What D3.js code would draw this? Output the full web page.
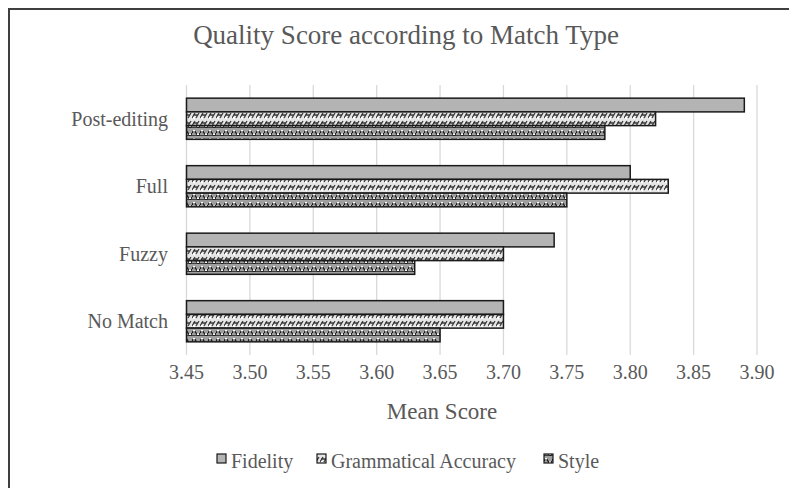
<!doctype html>
<html lang="en">
<head>
    <meta charset="utf-8">
    <script src="https://d3js.org/d3.v7.min.js"></script>
    <style type="text/css">
        html, body {
            margin: 0;
            padding: 0;
            background: #fff;
        }

        svg text {
            font-family: "Liberation Serif", "Times New Roman", serif;
            fill: #595959;
        }
    </style>
</head>
<body>
<svg id="svg" width="789" height="488"></svg>

<script>
    // categories top to bottom, as in the picture
    var categories = ["Post-editing", "Full", "Fuzzy", "No Match"];
    var seriesNames = ["Fidelity", "Grammatical Accuracy", "Style"];

    var fidelity = [3.89, 3.80, 3.74, 3.70];
    var grammatical = [3.82, 3.83, 3.70, 3.70];
    var style = [3.78, 3.75, 3.63, 3.65];

    var xTicks = [3.45, 3.50, 3.55, 3.60, 3.65, 3.70, 3.75, 3.80, 3.85, 3.90];

    var values = [fidelity, grammatical, style];

    var svg = d3.select("#svg");
    var defs = svg.append("defs");

    // fill patterns, roughly like the excel ones
    var pGram = defs.append("pattern")
        .attr("id", "pat-gram")
        .attr("patternUnits", "userSpaceOnUse")
        .attr("width", 8).attr("height", 8);
    pGram.append("rect").attr("width", 8).attr("height", 8).attr("fill", "#e6e6e6");
    pGram.append("path")
        .attr("d", "M0,6 L3,1 M4,6 L7,1 M1,3 L6,3")
        .attr("stroke", "#3a3a3a").attr("stroke-width", 1.3).attr("fill", "none");
    pGram.append("rect").attr("x", 1).attr("y", 5).attr("width", 2).attr("height", 2).attr("fill", "#ffffff");

    var pStyle = defs.append("pattern")
        .attr("id", "pat-style")
        .attr("patternUnits", "userSpaceOnUse")
        .attr("width", 8).attr("height", 8);
    pStyle.append("rect").attr("width", 8).attr("height", 8).attr("fill", "#a0a0a0");
    pStyle.append("path")
        .attr("d", "M0,5 Q2,1 4,5 T8,5 M0,8 L8,8")
        .attr("stroke", "#1e1e1e").attr("stroke-width", 1.4).attr("fill", "none");
    pStyle.append("rect").attr("x", 1).attr("y", 2).attr("width", 2).attr("height", 1.5).attr("fill", "#ffffff");
    pStyle.append("rect").attr("x", 5).attr("y", 5.5).attr("width", 2).attr("height", 1.5).attr("fill", "#ffffff");

    var fills = ["#b4b4b4", "url(#pat-gram)", "url(#pat-style)"];

    // chart frame (only left and top show in the crop)
    svg.append("path")
        .attr("d", "M9,488 L9,9 L789,9")
        .attr("fill", "none")
        .attr("stroke", "#3f3f3f")
        .attr("stroke-width", 2);

    var plotTop = 85, plotBottom = 355;

    var x = d3.scaleLinear()
        .domain([3.45, 3.90])
        .range([186.5, 757]);

    var y = d3.scaleBand()
        .domain(categories)
        .range([plotTop, plotBottom])
        .paddingInner(0.39)
        .paddingOuter(0.195);

    var ySub = d3.scaleBand()
        .domain(seriesNames)
        .range([0, y.bandwidth()]);

    // gridlines
    svg.append("g")
        .selectAll("line")
        .data(xTicks)
        .enter().append("line")
        .attr("x1", function (d) { return x(d); })
        .attr("x2", function (d) { return x(d); })
        .attr("y1", plotTop)
        .attr("y2", plotBottom)
        .attr("stroke", "#d9d9d9")
        .attr("stroke-width", 1.3);

    // tick labels
    svg.append("g")
        .selectAll("text")
        .data(xTicks)
        .enter().append("text")
        .attr("x", function (d) { return x(d); })
        .attr("y", 379)
        .attr("text-anchor", "middle")
        .style("font-size", "20px")
        .text(function (d) { return d3.format(".2f")(d); });

    // category labels
    svg.append("g")
        .selectAll("text")
        .data(categories)
        .enter().append("text")
        .attr("x", 168)
        .attr("y", function (d) { return y(d) + y.bandwidth() / 2 + 7; })
        .attr("text-anchor", "end")
        .style("font-size", "20px")
        .text(function (d) { return d; });

    // bars
    seriesNames.forEach(function (s, si) {
        svg.append("g")
            .selectAll("rect")
            .data(values[si])
            .enter().append("rect")
            .attr("x", x(3.45))
            .attr("y", function (d, i) { return y(categories[i]) + ySub(s); })
            .attr("width", function (d) { return x(d) - x(3.45); })
            .attr("height", ySub.bandwidth())
            .attr("fill", fills[si])
            .attr("stroke", "#1a1a1a")
            .attr("stroke-width", 1.5);
    });

    // title
    svg.append("text")
        .attr("x", 406)
        .attr("y", 44)
        .attr("text-anchor", "middle")
        .style("font-size", "27px")
        .text("Quality Score according to Match Type");

    // axis title
    svg.append("text")
        .attr("x", 442)
        .attr("y", 419)
        .attr("text-anchor", "middle")
        .style("font-size", "23px")
        .text("Mean Score");

    // legend
    var legendX = [217, 317, 544];
    var legend = svg.append("g");
    seriesNames.forEach(function (s, si) {
        legend.append("rect")
            .attr("x", legendX[si])
            .attr("y", 454)
            .attr("width", 9)
            .attr("height", 9)
            .attr("fill", fills[si])
            .attr("stroke", "#1a1a1a")
            .attr("stroke-width", 1.2);
        legend.append("text")
            .attr("x", legendX[si] + 14)
            .attr("y", 468)
            .style("font-size", "20px")
            .text(s);
    });
</script>
</body>
</html>
